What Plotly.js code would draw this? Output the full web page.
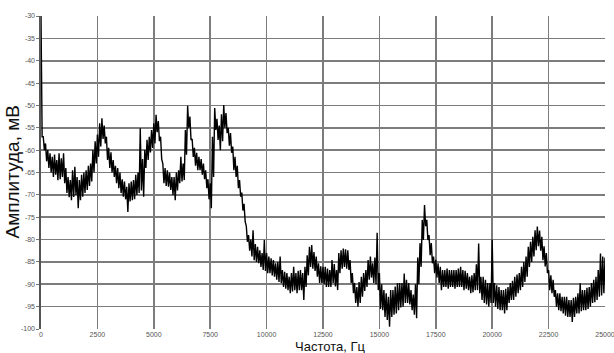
<!DOCTYPE html>
<html>
<head>
<meta charset="utf-8">
<script src="https://cdn.plot.ly/plotly-3.0.1.min.js"></script>
<style>
  html, body { margin: 0; padding: 0; background: #fff; }
  #chart { width: 614px; height: 353px; }
</style>
</head>
<body>
<div id="chart"></div>
<script>
// Spectrum noise band, sampled every 100 Hz from 0 to 25000 Hz:
// upper and lower edge of the measured amplitude (dB re mV) in each bin.
const binStepHz = 100;
const upperEdge = [
  -30, -57, -58.5, -60, -60.7, -61.5, -61, -62.2, -60.7, -61.8,
  -60.7, -64, -66, -66.7, -64.5, -63.7, -66, -66.7, -65.5, -65,
  -64.5, -63.5, -63, -60, -58, -56.5, -54, -52.9, -54.5, -57,
  -59.5, -60.5, -62.2, -63.5, -64, -65, -66.5, -67, -68.2, -67.4,
  -67, -66.7, -65.5, -65, -55.1, -62, -60, -57.7, -57, -55.5,
  -54, -52.1, -53.5, -57, -63, -64, -64.5, -65, -66, -66,
  -65, -64.5, -61.5, -63, -55.5, -50.1, -52.5, -57.5, -59.5, -60.6,
  -61.5, -62, -63, -64.5, -66.5, -67.4, -57, -50.6, -53, -54.5,
  -52, -49.9, -51.7, -55, -56.2, -59.2, -61.5, -63.5, -66.7, -69.5,
  -72, -77, -79, -80, -77.9, -81, -81.6, -82.4, -83, -80.1,
  -83, -83.8, -84.2, -84.6, -85.3, -85, -83.8, -86.8, -87.2, -87.5,
  -88.3, -87.5, -86.1, -87.5, -87, -86.8, -87.5, -86.1, -83.5, -81.6,
  -81.2, -82.8, -83.8, -85.3, -86, -86.1, -86.1, -86.5, -86.8, -84.6,
  -85.5, -86.8, -83, -82.4, -82, -82.2, -82.4, -84.6, -87.5, -89.7,
  -90.6, -89.5, -88.3, -87.5, -86.8, -84.6, -83.8, -85.3, -84, -78.5,
  -87.5, -90, -91.3, -92, -92.8, -91.3, -91.3, -90.5, -89.7, -89.7,
  -89.7, -87.6, -89, -89.7, -91.3, -92.3, -90, -84, -80.8, -75.6,
  -72.3, -75.6, -79, -80.8, -83.8, -84.5, -85.3, -86.1, -86.8, -86.8,
  -86.5, -86.8, -86.8, -86.8, -86.8, -86.5, -86.1, -86.8, -87, -87.5,
  -88.3, -88, -87.5, -85.5, -80.9, -88.3, -88.3, -89, -89.7, -89.7,
  -80, -89.7, -90.2, -90.6, -91.3, -91.3, -91, -90.6, -89.7, -89.2,
  -88.3, -87.8, -87.5, -86.1, -85, -83.8, -81.6, -80.5, -79.4, -77.9,
  -77.1, -78, -79.4, -81.5, -83, -86.8, -88, -89, -91.3, -92,
  -92, -92.8, -92.8, -92.8, -93.5, -93.5, -93, -92.8, -92, -89.8,
  -91.3, -91.3, -90.8, -90.6, -89.7, -89, -88.3, -86.8, -83.1, -83.8,
  -84
];
const lowerEdge = [
  -57, -60, -62.5, -64, -65, -66, -65.5, -66.7, -66.5, -66,
  -67.4, -69.6, -70.5, -71.2, -70.5, -70, -73, -71.2, -70.4, -69.6,
  -68.9, -68, -67, -65, -63, -61.5, -59.2, -57.5, -58.5, -62.2,
  -64, -65, -66, -67.4, -68.5, -69.6, -70.4, -71, -73.8, -71.5,
  -71.2, -71, -70, -69.6, -69, -70.4, -64, -62.2, -60.5, -59.5,
  -58.5, -56, -58, -62, -67.4, -68, -68.2, -68.9, -70, -71.2,
  -69, -67.4, -67, -66.7, -61, -55, -57.7, -61.5, -63.5, -64.5,
  -64.5, -65.5, -66.5, -68.5, -71, -73, -66, -55.5, -57.7, -60,
  -58, -55, -56.2, -59, -60.6, -64.5, -66, -68.5, -70.4, -73.5,
  -76, -80.5, -82.5, -83.8, -84.6, -85, -85.3, -86.1, -86.8, -87,
  -87.5, -87.5, -88, -88.3, -89, -89.5, -89.7, -90.6, -91, -91.3,
  -92, -91.6, -91.3, -92, -91.3, -91.3, -93.5, -90.6, -88, -86.1,
  -86.5, -87, -88.3, -89.7, -89.7, -90, -90.6, -90.6, -90.6, -89.7,
  -90.5, -91.3, -87.5, -86.5, -86.1, -86.5, -86.8, -89.7, -92, -94.2,
  -95, -94.2, -92.8, -91.5, -90.6, -89, -88.5, -89.7, -90, -91.3,
  -95.5, -95.8, -97.3, -98, -99.5, -97.3, -96.8, -96.5, -95.8, -95.2,
  -95, -94.2, -94.2, -94.5, -95.8, -96.8, -97.6, -90, -86.1, -80.1,
  -77, -80.1, -83.5, -85.3, -87.5, -88.5, -89.7, -91.3, -90.6, -90.6,
  -91, -90.6, -90.6, -91, -90.6, -90.6, -90.6, -91.3, -91, -91.3,
  -92, -91.8, -91.3, -91.3, -92, -93.5, -94.2, -94.5, -95, -94.2,
  -94.2, -95, -95.5, -95.8, -95.8, -96.5, -95.8, -94.2, -93.5, -93.5,
  -92.8, -92, -91.3, -90.6, -89.5, -88.3, -86.1, -85, -83.8, -82.4,
  -81.5, -82.5, -84.6, -86, -87.5, -91.3, -92, -92.8, -95, -95.8,
  -96, -96.5, -97, -97.3, -97.3, -98.4, -97.3, -96.5, -96.5, -96,
  -95.8, -95.8, -95.5, -95, -94.2, -94, -93.5, -92.8, -92.5, -92,
  -91
];

const xTickValues = [0, 2500, 5000, 7500, 10000, 12500, 15000, 17500, 20000, 22500, 25000];
const xTickLabels = ['0', '2500', '5000', '7500', '10000', '12500', '15000', '17500', '20000', '22500', '25000'];
const yTickValues = [-100, -95, -90, -85, -80, -75, -70, -65, -60, -55, -50, -45, -40, -35, -30];
const yTickLabels = ['-100', '-95', '-90', '-85', '-80', '-75', '-70', '-65', '-60', '-55', '-50', '-45', '-40', '-35', '-30'];

const xAxisTitle = 'Частота, Гц';
const yAxisTitle = 'Амплитуда, мВ';

// The trace runs through each bin's upper edge, then its lower edge half a bin later,
// so the spectrum reads as a dense noisy band.
const traceX = [];
const traceY = [];
upperEdge.forEach((hi, i) => {
  const f = i * binStepHz;
  traceX.push(f, f + binStepHz / 2);
  traceY.push(hi, lowerEdge[i]);
});

const gridColor = '#7c7c7c';
const fontFamily = 'Liberation Sans, Arial, sans-serif';
const tickFont = { family: fontFamily, size: 7, color: '#555' };

const data = [{
  type: 'scatter',
  mode: 'lines',
  x: traceX,
  y: traceY,
  line: { color: '#000', width: 1.4 },
  hoverinfo: 'skip'
}];

const layout = {
  width: 614,
  height: 353,
  margin: { l: 41, r: 9, t: 16, b: 24 },
  paper_bgcolor: '#fff',
  plot_bgcolor: '#fff',
  showlegend: false,
  xaxis: {
    range: [0, 25000],
    tickmode: 'array',
    tickvals: xTickValues,
    ticktext: xTickLabels,
    showgrid: true,
    gridcolor: gridColor,
    gridwidth: 1.6,
    zeroline: false,
    showline: false,
    ticks: '',
    tickfont: tickFont,
    ticklabeloverflow: 'allow'
  },
  yaxis: {
    range: [-100, -30],
    tickmode: 'array',
    tickvals: yTickValues,
    ticktext: yTickLabels,
    showgrid: true,
    gridcolor: gridColor,
    gridwidth: 1.6,
    zeroline: false,
    showline: true,
    linecolor: '#555',
    linewidth: 1.6,
    ticks: 'outside',
    ticklen: 3,
    tickcolor: '#777',
    tickfont: tickFont
  },
  annotations: [
    {
      text: xAxisTitle,
      xref: 'paper', yref: 'paper',
      x: 0.5, y: 0,
      xanchor: 'center', yanchor: 'top',
      xshift: 7, yshift: -9,
      showarrow: false,
      borderpad: 0,
      font: { family: fontFamily, size: 13, color: '#111' }
    },
    {
      text: yAxisTitle,
      xref: 'paper', yref: 'paper',
      x: 0, y: 0.5,
      xanchor: 'center', yanchor: 'middle',
      xshift: -29, yshift: 0,
      textangle: -90,
      showarrow: false,
      font: { family: fontFamily, size: 19, color: '#111' }
    }
  ]
};

Plotly.newPlot('chart', data, layout, { staticPlot: true, displayModeBar: false });
</script>
</body>
</html>
